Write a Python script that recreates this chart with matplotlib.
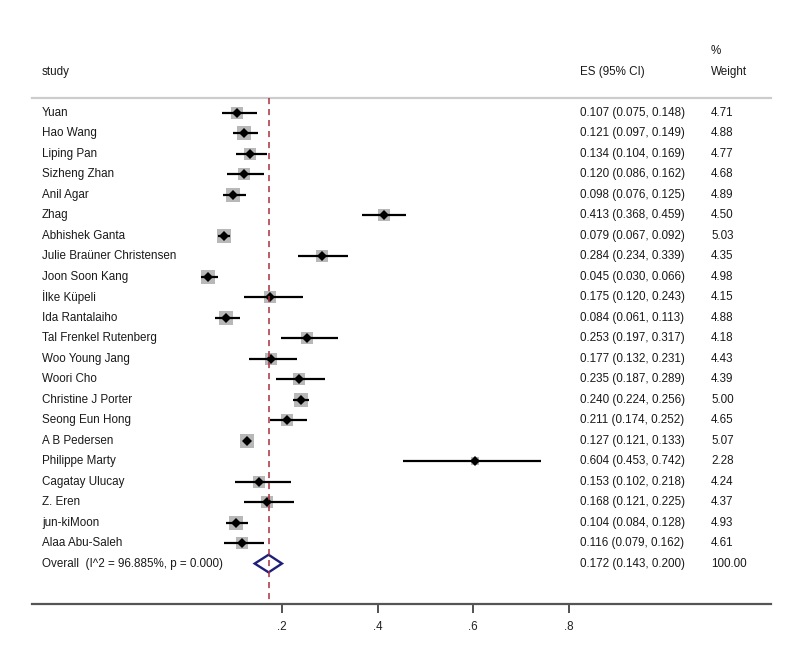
import matplotlib
matplotlib.use("Agg")
import matplotlib.pyplot as plt
from matplotlib.transforms import blended_transform_factory
import numpy as np

plt.rcParams['font.family'] = ['Liberation Sans', 'DejaVu Sans']

studies = ["Yuan", "Hao Wang", "Liping Pan", "Sizheng Zhan", "Anil Agar", "Zhag",
           "Abhishek Ganta", "Julie Braüner Christensen", "Joon Soon Kang", "İlke Küpeli",
           "Ida Rantalaiho", "Tal Frenkel Rutenberg", "Woo Young Jang", "Woori Cho",
           "Christine J Porter", "Seong Eun Hong", "A B Pedersen", "Philippe Marty",
           "Cagatay Ulucay", "Z. Eren", "jun-kiMoon", "Alaa Abu-Saleh"]
es = [0.107, 0.121, 0.134, 0.120, 0.098, 0.413, 0.079, 0.284, 0.045, 0.175, 0.084,
      0.253, 0.177, 0.235, 0.240, 0.211, 0.127, 0.604, 0.153, 0.168, 0.104, 0.116]
lo = [0.075, 0.097, 0.104, 0.086, 0.076, 0.368, 0.067, 0.234, 0.030, 0.120, 0.061,
      0.197, 0.132, 0.187, 0.224, 0.174, 0.121, 0.453, 0.102, 0.121, 0.084, 0.079]
hi = [0.148, 0.149, 0.169, 0.162, 0.125, 0.459, 0.092, 0.339, 0.066, 0.243, 0.113,
      0.317, 0.231, 0.289, 0.256, 0.252, 0.133, 0.742, 0.218, 0.225, 0.128, 0.162]
weights = [4.71, 4.88, 4.77, 4.68, 4.89, 4.50, 5.03, 4.35, 4.98, 4.15, 4.88, 4.18,
           4.43, 4.39, 5.00, 4.65, 5.07, 2.28, 4.24, 4.37, 4.93, 4.61]
overall_label = "Overall  (I^2 = 96.885%, p = 0.000)"
overall_es, overall_lo, overall_hi, overall_w = 0.172, 0.143, 0.200, "100.00"
xticks = [0.2, 0.4, 0.6, 0.8]
xticklabels = [".2", ".4", ".6", ".8"]

W, H = 796, 670
fig = plt.figure(figsize=(W / 100, H / 100), dpi=100)

ax_left_px, ax_right_px = 32, 771
ax_top_px, ax_bot_px = 98, 604
ax = fig.add_axes([ax_left_px / W, (H - ax_bot_px) / H,
                   (ax_right_px - ax_left_px) / W, (ax_bot_px - ax_top_px) / H])

x0px, ppu = 186.3, 478.3
ax.set_xlim((ax_left_px - x0px) / ppu, (ax_right_px - x0px) / ppu)
r0px, ppr = 113.0, 20.48
ax.set_ylim((ax_bot_px - r0px) / ppr, (ax_top_px - r0px) / ppr)

for s in ["left", "right"]:
    ax.spines[s].set_visible(False)
ax.spines["top"].set_color("#cccccc")
ax.spines["top"].set_linewidth(1.6)
ax.spines["bottom"].set_color("#555555")
ax.spines["bottom"].set_linewidth(1.6)
ax.set_yticks([])
ax.set_xticks(xticks)
ax.set_xticklabels(xticklabels, fontsize=8.4, color="#222222")
ax.tick_params(axis="x", direction="out", length=6.5, width=1.3, color="#444444", pad=6)

fs = 8.4
tc = "#1a1a1a"
rows = np.arange(len(studies))
k = 5.93
for i in rows:
    side_px = k * np.sqrt(weights[i])
    ax.plot(es[i], i, marker="s", markersize=side_px * 0.72, color="#b8b8b8",
            markeredgewidth=0, zorder=2)
    ax.plot([lo[i], hi[i]], [i, i], color="black", lw=1.6, zorder=3, solid_capstyle="butt")
    ax.plot(es[i], i, marker="D", markersize=5.4, color="black", markeredgewidth=0, zorder=4)

orow = len(studies)
dh = 0.43
ax.fill([overall_lo, overall_es, overall_hi, overall_es, overall_lo],
        [orow, orow - dh, orow, orow + dh, orow], facecolor="white",
        edgecolor="#1f1f7a", lw=1.7, zorder=3)

ax.plot([overall_es, overall_es], [ax.get_ylim()[1], ax.get_ylim()[0]],
        color="#a83040", lw=1.1, ls=(0, (4, 3.2)), zorder=5)

tr = blended_transform_factory(fig.transFigure, ax.transData)
col_study, col_es, col_w = 42 / W, 580 / W, 711 / W
for i in rows:
    ax.text(col_study, i, studies[i], transform=tr, fontsize=fs, va="center", ha="left", color=tc)
    ax.text(col_es, i, f"{es[i]:.3f} ({lo[i]:.3f}, {hi[i]:.3f})", transform=tr,
            fontsize=fs, va="center", ha="left", color=tc)
    ax.text(col_w, i, f"{weights[i]:.2f}", transform=tr, fontsize=fs, va="center", ha="left", color=tc)
ax.text(col_study, orow, overall_label, transform=tr, fontsize=fs, va="center", ha="left", color=tc)
ax.text(col_es, orow, f"{overall_es:.3f} ({overall_lo:.3f}, {overall_hi:.3f})",
        transform=tr, fontsize=fs, va="center", ha="left", color=tc)
ax.text(col_w, orow, overall_w, transform=tr, fontsize=fs, va="center", ha="left", color=tc)

fig.text(col_study, (H - 72) / H, "study", fontsize=fs, va="center", ha="left", color=tc)
fig.text(col_es, (H - 72) / H, "ES (95% CI)", fontsize=fs, va="center", ha="left", color=tc)
fig.text(col_w, (H - 72) / H, "Weight", fontsize=fs, va="center", ha="left", color=tc)
fig.text(col_w, (H - 51) / H, "%", fontsize=fs, va="center", ha="left", color=tc)

fig.savefig("out.png", dpi=100, facecolor="white")
